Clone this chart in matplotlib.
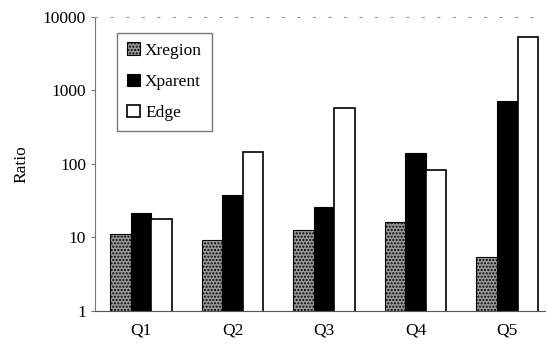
import numpy as np
import matplotlib.pyplot as plt

plt.rcParams['font.family'] = ['Liberation Serif', 'DejaVu Serif']

# Data
queries = ['Q1', 'Q2', 'Q3', 'Q4', 'Q5']
xregion = [11, 9.2, 12.6, 16, 5.4]
xparent = [21.6, 38, 26, 141, 720]
edge = [17.9, 146, 575, 83, 5370]

fig = plt.figure(figsize=(5.47, 3.47), dpi=100)
ax = fig.add_axes([0.174, 0.104, 0.822, 0.847])

x = np.arange(len(queries))
w = 0.224
ax.bar(x - w, xregion, w, color='#9a9a9a', edgecolor='black', linewidth=0.8,
       hatch='.....', label='Xregion')
ax.bar(x, xparent, w, color='black', edgecolor='black', linewidth=0.8,
       label='Xparent')
ax.bar(x + w, edge, w, color='white', edgecolor='black', linewidth=1.2,
       label='Edge')

ax.set_yscale('log')
ax.set_ylim(1, 10000)
ax.set_xlim(-0.50, 4.41)
ax.set_yticks([1, 10, 100, 1000, 10000])
ax.set_yticklabels(['1', '10', '100', '1000', '10000'])
ax.minorticks_off()
ax.set_xticks(x)
ax.set_xticklabels(queries)
ax.tick_params(axis='x', length=0, pad=8, labelsize=12.5)
ax.tick_params(axis='y', direction='out', length=3, labelsize=12.5, color='#777777')
ax.set_ylabel('Ratio', fontsize=12.5, labelpad=10)

ax.spines['right'].set_visible(False)
ax.spines['top'].set_linestyle((0, (2, 12)))
ax.spines['top'].set_color('#999999')
ax.spines['left'].set_color('#777777')
ax.spines['bottom'].set_color('#555555')

ax.legend(loc='upper left', bbox_to_anchor=(0.049, 0.946), fontsize=12.5,
          frameon=True, fancybox=False, edgecolor='#555555',
          handlelength=0.75, handleheight=0.75, handletextpad=0.3,
          labelspacing=0.85, borderpad=0.55, borderaxespad=0)

fig.savefig('out.png', dpi=100)
